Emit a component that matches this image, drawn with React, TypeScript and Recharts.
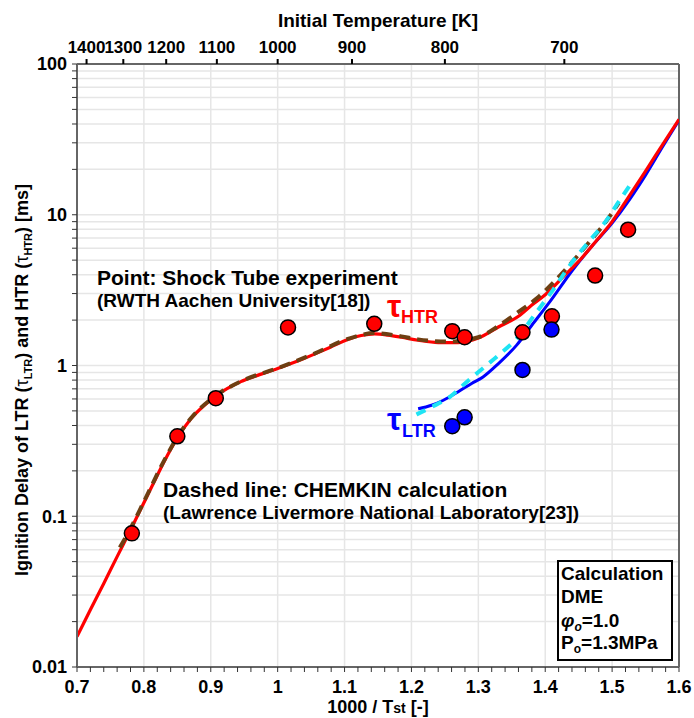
import React from 'react';
import { ComposedChart, Line, Scatter, XAxis, YAxis, CartesianGrid, ReferenceLine } from 'recharts';

type Pt = { x: number; y: number };

// 1000/T vs ignition delay [ms]
const htrCalc: Pt[] = [
  { x: 0.7, y: 0.0159 }, { x: 0.72, y: 0.024 }, { x: 0.74, y: 0.0358 }, { x: 0.76, y: 0.054 },
  { x: 0.78, y: 0.081 }, { x: 0.8, y: 0.123 }, { x: 0.815, y: 0.168 }, { x: 0.83, y: 0.229 },
  { x: 0.85, y: 0.331 }, { x: 0.87, y: 0.442 }, { x: 0.89, y: 0.543 }, { x: 0.905, y: 0.617 },
  { x: 0.925, y: 0.705 }, { x: 0.945, y: 0.782 }, { x: 0.97, y: 0.86 }, { x: 1.0, y: 0.955 },
  { x: 1.03, y: 1.07 }, { x: 1.055, y: 1.19 }, { x: 1.08, y: 1.33 }, { x: 1.105, y: 1.49 },
  { x: 1.125, y: 1.58 }, { x: 1.145, y: 1.62 }, { x: 1.165, y: 1.59 }, { x: 1.185, y: 1.54 },
  { x: 1.21, y: 1.47 }, { x: 1.24, y: 1.42 }, { x: 1.27, y: 1.42 }, { x: 1.3, y: 1.52 },
  { x: 1.33, y: 1.8 }, { x: 1.36, y: 2.12 }, { x: 1.38, y: 2.52 }, { x: 1.4, y: 2.95 },
  { x: 1.43, y: 4.0 }, { x: 1.45, y: 4.9 }, { x: 1.475, y: 6.6 }, { x: 1.5, y: 9.0 },
  { x: 1.525, y: 13.2 }, { x: 1.55, y: 19.5 }, { x: 1.575, y: 29 }, { x: 1.6, y: 43 },
];

const htrChemkin: Pt[] = [
  { x: 0.764, y: 0.062 }, { x: 0.78, y: 0.083 }, { x: 0.8, y: 0.125 }, { x: 0.83, y: 0.233 },
  { x: 0.85, y: 0.335 }, { x: 0.87, y: 0.445 }, { x: 0.905, y: 0.62 }, { x: 0.945, y: 0.785 },
  { x: 1.0, y: 0.96 }, { x: 1.055, y: 1.2 }, { x: 1.105, y: 1.5 }, { x: 1.145, y: 1.64 },
  { x: 1.185, y: 1.56 }, { x: 1.21, y: 1.49 }, { x: 1.257, y: 1.44 }, { x: 1.3, y: 1.54 },
  { x: 1.33, y: 1.83 }, { x: 1.357, y: 2.22 }, { x: 1.387, y: 2.78 }, { x: 1.416, y: 3.7 },
  { x: 1.441, y: 4.9 }, { x: 1.466, y: 6.6 }, { x: 1.49, y: 8.9 }, { x: 1.51, y: 12.0 },
];

const ltrCalc: Pt[] = [
  { x: 1.21, y: 0.516 }, { x: 1.23, y: 0.545 }, { x: 1.247, y: 0.586 }, { x: 1.27, y: 0.67 },
  { x: 1.29, y: 0.76 }, { x: 1.307, y: 0.84 }, { x: 1.33, y: 1.03 }, { x: 1.357, y: 1.36 },
  { x: 1.38, y: 1.85 }, { x: 1.407, y: 2.65 }, { x: 1.441, y: 4.3 }, { x: 1.47, y: 6.2 },
  { x: 1.5, y: 8.8 }, { x: 1.526, y: 12.6 }, { x: 1.55, y: 18.3 }, { x: 1.575, y: 28 },
  { x: 1.6, y: 42.5 },
];

const ltrChemkin: Pt[] = [
  { x: 1.2075, y: 0.473 }, { x: 1.23, y: 0.53 }, { x: 1.257, y: 0.617 }, { x: 1.28, y: 0.76 },
  { x: 1.307, y: 0.96 }, { x: 1.33, y: 1.17 }, { x: 1.357, y: 1.5 }, { x: 1.385, y: 2.2 },
  { x: 1.411, y: 3.14 }, { x: 1.441, y: 4.9 }, { x: 1.466, y: 6.7 }, { x: 1.491, y: 9.1 },
  { x: 1.511, y: 12.4 }, { x: 1.531, y: 16.8 },
];

// shock tube points
const htrExp: Pt[] = [
  { x: 0.782, y: 0.077 }, { x: 0.85, y: 0.339 }, { x: 0.9075, y: 0.607 }, { x: 1.0155, y: 1.79 },
  { x: 1.1444, y: 1.89 }, { x: 1.261, y: 1.69 }, { x: 1.2795, y: 1.54 }, { x: 1.366, y: 1.66 },
  { x: 1.41, y: 2.12 }, { x: 1.4746, y: 3.95 }, { x: 1.5239, y: 7.96 },
];

const ltrExp: Pt[] = [
  { x: 1.261, y: 0.396 }, { x: 1.2795, y: 0.453 }, { x: 1.366, y: 0.935 }, { x: 1.4094, y: 1.73 },
];

const tempTicks = [1400, 1300, 1200, 1100, 1000, 900, 800, 700];
const xGrid = [0.8, 0.9, 1.0, 1.1, 1.2, 1.3, 1.4, 1.5];
const xTicks = Array.from({ length: 46 }, (_, i) => Number((0.7 + i * 0.02).toFixed(2)));
const decades = [0.01, 0.1, 1, 10];
const yTicks = [...decades.flatMap((d) => [1, 2, 3, 4, 5, 6, 7, 8, 9].map((m) => Number((d * m).toPrecision(3)))), 100];

const FONT = '"Liberation Sans", Arial, sans-serif';
const AXIS = '#666';

const isDecade = (v: number) => Math.abs(Math.log10(v) - Math.round(Math.log10(v))) < 1e-9;
const isTenth = (v: number) => Math.abs(v * 10 - Math.round(v * 10)) < 1e-6;

const dot = (fill: string) => (props: any) => (
  <circle cx={props.cx} cy={props.cy} r={7.5} fill={fill} stroke="#000" strokeWidth={1.5} />
);

const tickStyle = { fill: '#000', fontSize: 18, fontWeight: 700, fontFamily: FONT };

export default function App() {
  return (
    <div style={{ position: 'absolute', left: 0, top: 0, width: 694, height: 718, background: '#fff' }}>
      <ComposedChart width={694} height={718} margin={{ top: 34, right: 15, bottom: 21, left: 27 }}>
        <CartesianGrid stroke="#e6e6e6" strokeWidth={1.5} verticalValues={xGrid} />
        <XAxis
          dataKey="x"
          type="number"
          domain={[0.7, 1.6]}
          ticks={xTicks}
          interval={0}
          allowDataOverflow
          height={30}
          tickSize={5}
          tickMargin={8}
          tickFormatter={(v: number) => (isTenth(v) ? String(Number(v.toFixed(1))) : '')}
          tick={tickStyle}
          axisLine={{ stroke: AXIS, strokeWidth: 2 }}
          tickLine={{ stroke: '#333' }}
        />
        <XAxis
          xAxisId="top"
          orientation="top"
          dataKey="x"
          type="number"
          domain={[0.7, 1.6]}
          ticks={tempTicks.map((t) => 1000 / t)}
          interval={0}
          allowDataOverflow
          height={30}
          tickSize={5}
          tickMargin={6}
          tickFormatter={(v: number) => String(Math.round(1000 / v))}
          tick={{ ...tickStyle, fontSize: 17 }}
          axisLine={{ stroke: AXIS, strokeWidth: 2 }}
          tickLine={{ stroke: '#000', strokeWidth: 2 }}
        />
        <YAxis
          type="number"
          scale="log"
          domain={[0.01, 100]}
          ticks={yTicks}
          interval={0}
          allowDataOverflow
          width={50}
          tickSize={5}
          tickMargin={5}
          tickFormatter={(v: number) => (isDecade(v) ? String(v) : '')}
          tick={tickStyle}
          axisLine={{ stroke: AXIS, strokeWidth: 2 }}
          tickLine={{ stroke: '#333' }}
        />
        <ReferenceLine x={1.6} stroke={AXIS} strokeWidth={2} />
        <Line data={ltrCalc} dataKey="y" type="monotone" stroke="#0000ff" strokeWidth={3} dot={false} isAnimationActive={false} />
        <Line data={htrCalc} dataKey="y" type="monotone" stroke="#ff0000" strokeWidth={3.2} dot={false} isAnimationActive={false} />
        <Line data={htrChemkin} dataKey="y" type="monotone" stroke="#6e3f12" strokeWidth={4} strokeDasharray="11 7" dot={false} isAnimationActive={false} />
        <Line data={ltrChemkin} dataKey="y" type="monotone" stroke="#1ee4f4" strokeWidth={4} strokeDasharray="10 8" dot={false} isAnimationActive={false} />
        <Scatter data={htrExp} dataKey="y" shape={dot('#ff0000')} isAnimationActive={false} />
        <Scatter data={ltrExp} dataKey="y" shape={dot('#0000ff')} isAnimationActive={false} />
      </ComposedChart>

      <svg
        width={694}
        height={718}
        style={{ position: 'absolute', left: 0, top: 0, pointerEvents: 'none' }}
        fontFamily={FONT}
        fontWeight={700}
      >
        <text x={378} y={27} textAnchor="middle" fontSize={19}>Initial Temperature [K]</text>
        <text x={378} y={713} textAnchor="middle" fontSize={18}>
          1000 / T<tspan fontSize={14}>st</tspan> [-]
        </text>
        <text transform="translate(28,380) rotate(-90)" textAnchor="middle" fontSize={18}>
          Ignition Delay of LTR (<tspan fontWeight={400}>τ</tspan>
          <tspan fontSize={11} dy={4}>LTR</tspan>
          <tspan dy={-4}>) and HTR (</tspan>
          <tspan fontWeight={400}>τ</tspan>
          <tspan fontSize={11} dy={4}>HTR</tspan>
          <tspan dy={-4}>) [ms]</tspan>
        </text>

        <text x={97} y={285} fontSize={21}>Point: Shock Tube experiment</text>
        <text x={97} y={307} fontSize={19}>(RWTH Aachen University[18])</text>
        <text x={163} y={497} fontSize={21}>Dashed line: CHEMKIN calculation</text>
        <text x={163} y={519} fontSize={19}>(Lawrence Livermore National Laboratory[23])</text>

        <text x={387} y={317} fill="#ff0000" fontSize={32}>τ</text>
        <text x={401} y={323} fill="#ff0000" fontSize={18}>HTR</text>
        <text x={387} y={430} fill="#0000ff" fontSize={32}>τ</text>
        <text x={402} y={437} fill="#0000ff" fontSize={18}>LTR</text>

        <rect x={558} y={561} width={114} height={99} fill="#fff" stroke="#000" strokeWidth={2} />
        <text x={561} y={580} fontSize={19}>Calculation</text>
        <text x={561} y={603} fontSize={19}>DME</text>
        <text x={561} y={627} fontSize={19}>
          <tspan fontStyle="italic">φ</tspan>
          <tspan fontSize={12} dy={4} fontStyle="italic">o</tspan>
          <tspan dy={-4}>=1.0</tspan>
        </text>
        <text x={561} y={649} fontSize={19}>
          P<tspan fontSize={12} dy={4}>o</tspan>
          <tspan dy={-4}>=1.3MPa</tspan>
        </text>
      </svg>
    </div>
  );
}
